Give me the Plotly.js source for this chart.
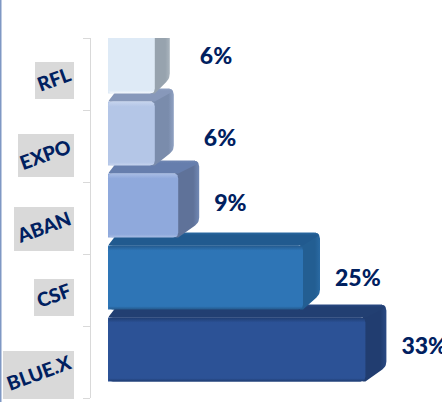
<!DOCTYPE html>
<html>
<head>
<meta charset="utf-8">
<script src="https://cdn.plot.ly/plotly-3.0.0.min.js"></script>
<style>html,body{margin:0;padding:0;background:#fff;overflow:hidden}</style>
</head>
<body>
<div id="chart" style="width:442px;height:402px"></div>
<script>
// Listed bottom to top, as a horizontal category axis stacks them
const categories = ['BLUE.X', 'CSF', 'ABAN', 'EXPO', 'RFL'];
const shares = [33, 25, 9, 6, 6];

// Face colours for the extruded bars
const frontColors = ['#2c5296', '#2e75b6', '#8fa9dc', '#b4c6e7', '#deeaf6'];
const frontEdge   = ['#1f3c70', '#24598c', '#a9bde4', '#c6d4ee', '#f4f8fc'];
const topColors   = ['#223f72', '#215a8f', '#667ead', '#8798ba', '#a8b3bd'];
const sideColors  = ['#213d70', '#235e92', '#5f7299', '#7a8cac', '#97a3ae'];
const sideLight   = ['#2a4a84', '#2a6aa3', '#7188b4', '#8fa1c2', '#aab5be'];
const depths      = [21, 17, 21, 19, 15];
const labelGaps   = [15, 15, 15, 30, 30];
const labelLift   = [1, -3, 0, -7, 3];

// Grey plates behind the category labels: left, top, bottom in page pixels
const plateLeft   = [3, 34, 14, 18, 35];
const plateTop    = [351, 279, 207, 134, 62];
const plateBottom = [399, 316, 251, 177, 99];

const W = 442, H = 402;
const M = {l: 91, r: 0, t: 38, b: 4};
const pxPerUnit = 7.8, pxPerBand = 72;
const xMin = -17 / pxPerUnit;
const xMax = xMin + (W - M.l - M.r) / pxPerUnit;
const dx = p => p / pxPerUnit;
const dy = p => p / pxPerBand;

const barHeight = 0.889, barShift = 0.174, chamfer = 10, lift = 13, radius = 5;
const navy = '#002060';

// Rounded outline through a list of corners, in axis units
function roundedPath(corners, radii) {
  const xs = [], ys = [], n = corners.length;
  corners.forEach((c, i) => {
    const r = radii[i];
    const p = corners[(i + n - 1) % n], q = corners[(i + 1) % n];
    if (!r) { xs.push(c[0]); ys.push(c[1]); return; }
    const along = (a) => {
      const vx = (a[0] - c[0]) * pxPerUnit, vy = (a[1] - c[1]) * pxPerBand;
      const len = Math.hypot(vx, vy) || 1;
      return [vx / len * r / pxPerUnit, vy / len * r / pxPerBand];
    };
    const u = along(p), v = along(q);
    for (let t = 0; t <= 1.001; t += 0.2) {
      const a = (1 - t) * (1 - t), b = t * t;
      xs.push(c[0] + a * u[0] + b * v[0]);
      ys.push(c[1] + a * u[1] + b * v[1]);
    }
  });
  xs.push(xs[0]); ys.push(ys[0]);
  return {x: xs, y: ys};
}

function face(path, type, stops) {
  return {
    type: 'scatter', mode: 'lines', x: path.x, y: path.y, yaxis: 'y2', cliponaxis: false,
    line: {width: 0}, fill: 'toself', hoverinfo: 'skip', showlegend: false,
    fillgradient: {type: type, colorscale: stops}
  };
}

const traces = [{
  type: 'bar', orientation: 'h', y: categories, x: shares,
  width: barHeight, offset: barShift - barHeight / 2,
  marker: {color: frontColors, line: {width: 0}, cornerradius: radius},
  hoverinfo: 'skip', showlegend: false
}];

// Lower bars go first so that each bar sits over the top face of the one beneath it
categories.forEach((name, i) => {
  const R = shares[i];
  const bot = i + barShift - barHeight / 2, top = bot + barHeight;
  const d = dx(depths[i]), h = dy(lift), ch = dx(chamfer);
  const sideP = roundedPath(
    [[R - dx(3), top], [R + d - dx(4), top + h], [R + d, top + h], [R + d, bot + h + dy(2)], [R, bot], [R - dx(3), bot]],
    [0, 0, 6, 5, 0, 0]);
  const topP = roundedPath(
    [[0, top], [ch, top + h], [R + d, top + h], [R + d - dx(1), top + h - dy(3)], [R, top]],
    [2, 5, 6, 0, 0]);
  traces.push(face(sideP, 'horizontal', [[0, sideColors[i]], [0.75, sideColors[i]], [1, sideLight[i]]]));
  traces.push(face(topP, 'vertical', [[0, topColors[i]], [0.8, topColors[i]], [1, sideLight[i]]]));
  const frontP = roundedPath([[0, bot], [0, top], [R, top], [R, bot]], [radius, radius, radius, radius]);
  traces.push(face(frontP, 'vertical', [
    [0, frontEdge[i]], [0.05, frontColors[i]], [0.92, frontColors[i]], [1, frontEdge[i]]
  ]));
});

// Percentage labels to the right of each extruded bar
traces.push({
  type: 'scatter', mode: 'text', cliponaxis: false, yaxis: 'y2',
  x: shares.map((v, i) => v + dx(depths[i] + labelGaps[i])),
  y: categories.map((c, i) => i + barShift + dy(labelLift[i])),
  text: shares.map(v => v + '%'),
  textposition: 'middle right',
  textfont: {family: 'Lato, sans-serif', size: 23, color: navy, weight: 900},
  hoverinfo: 'skip', showlegend: false
});

const paperX = p => (p - M.l) / (W - M.l - M.r);
const paperY = p => 1 - (p - M.t) / (H - M.t - M.b);

const shapes = categories.map((c, i) => ({
  type: 'rect', layer: 'below', xref: 'paper', yref: 'paper',
  x0: paperX(plateLeft[i]), x1: paperX(74),
  y0: paperY(plateBottom[i]), y1: paperY(plateTop[i]),
  fillcolor: '#d9d9d9', line: {width: 0}
}));
shapes.push({
  type: 'rect', layer: 'below', xref: 'paper', yref: 'paper',
  x0: paperX(0), x1: paperX(1.5), y0: paperY(H), y1: paperY(0),
  fillcolor: '#7f98c4', line: {width: 0}
});

Plotly.newPlot('chart', traces, {
  width: W, height: H,
  margin: M,
  paper_bgcolor: '#ffffff', plot_bgcolor: '#ffffff',
  showlegend: false, barmode: 'overlay',
  xaxis: {range: [xMin, xMax], visible: false, fixedrange: true},
  yaxis: {
    type: 'category', categoryorder: 'array', categoryarray: categories,
    range: [-0.5, 4.5], fixedrange: true,
    tickson: 'boundaries', ticks: 'outside', ticklen: 7, tickwidth: 1,
    tickcolor: '#d9d9d9', showline: true, linecolor: '#d9d9d9', linewidth: 1,
    showgrid: false, zeroline: false, tickangle: -20, ticklabelstandoff: 17,
    tickfont: {family: 'Lato, sans-serif', size: 19.5, color: navy, weight: 900}
  },
  yaxis2: {overlaying: 'y', range: [-0.5, 4.5], visible: false, fixedrange: true},
  shapes: shapes
}, {displayModeBar: false, staticPlot: true});
</script>
</body>
</html>
